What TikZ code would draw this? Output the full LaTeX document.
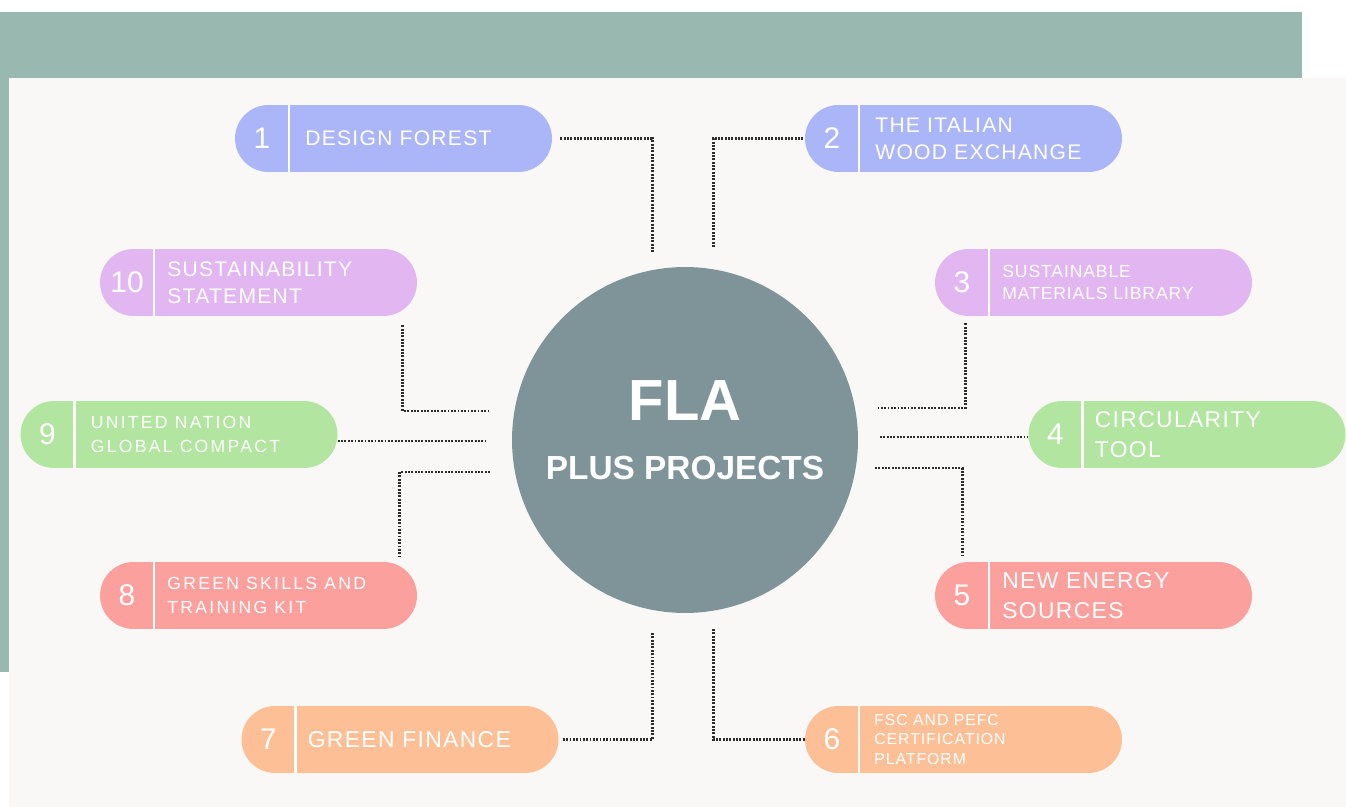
\documentclass[tikz,border=0pt]{standalone}
\usepackage{fontspec}
\setmainfont{Liberation Sans}
\usepackage{tikz}
\usetikzlibrary{shapes.misc}
\usetikzlibrary{positioning}

\definecolor{bandteal}{RGB}{152,184,176}
\definecolor{panelbg}{RGB}{249,248,246}
\definecolor{hubgray}{RGB}{126,148,152}
\definecolor{dotgray}{RGB}{45,45,45}
\definecolor{pillblue}{RGB}{170,182,248}
\definecolor{pilllilac}{RGB}{226,182,240}
\definecolor{pillgreen}{RGB}{178,229,160}
\definecolor{pillsalmon}{RGB}{252,160,157}
\definecolor{pillpeach}{RGB}{253,191,150}

\newcommand{\lblbig}{\fontsize{13}{17}\selectfont\addfontfeature{LetterSpace=6}}
\newcommand{\lblmid}{\fontsize{12}{15.3}\selectfont\addfontfeature{LetterSpace=6}}
\newcommand{\lblsmall}{\fontsize{10}{12.5}\selectfont\addfontfeature{LetterSpace=5}}
\newcommand{\lblwide}{\fontsize{10}{14}\selectfont\addfontfeature{LetterSpace=13}}
\newcommand{\lbltiny}{\fontsize{9}{11.3}\selectfont\addfontfeature{LetterSpace=6}}

\tikzset{
  pill/.style={rounded rectangle, minimum width=6.34cm, minimum height=1.34cm, inner sep=0pt},
  divider/.style={draw=white, line width=1.6pt},
  num/.style={text=white, font=\fontsize{17}{17}\selectfont, inner sep=0pt},
  lbl/.style={text=white, anchor=west, align=left, inner sep=0pt},
  dotline/.style={draw=dotgray, line width=1.7pt, dash pattern=on 1.1pt off 0.8pt},
}

\begin{document}
\begin{tikzpicture}[x=0.02cm, y=-0.02cm]
    \useasboundingbox (0, 0) rectangle (1346, 807);
    % background
    \fill[white] (0, 0) rectangle (1346, 807);
    \fill[bandteal] (0, 12) rectangle (1302, 672);
    \fill[panelbg] (9, 78) rectangle (1346, 807);

    % hub
    \node[circle, fill=hubgray, minimum size=6.92cm, inner sep=0pt] (hub) at (685, 440) {};
    \node[text=white, font=\fontsize{33}{33}\selectfont\bfseries] (ttl) at ([yshift=0.78cm]hub.center) {FLA};
    \node[text=white, font=\fontsize{19}{19}\selectfont\bfseries] (sub) at ([yshift=-0.56cm]hub.center) {PLUS PROJECTS};

    % pills
    \node[pill, fill=pillblue] (p1) at (393.5, 138.5) {};
    \node[pill, fill=pillblue] (p2) at (963.5, 138.5) {};
    \node[pill, fill=pilllilac] (p10) at (258.5, 282.5) {};
    \node[pill, fill=pilllilac] (p3) at (1093.5, 282.5) {};
    \node[pill, fill=pillgreen] (p9) at (179, 434.5) {};
    \node[pill, fill=pillgreen] (p4) at (1187, 434.5) {};
    \node[pill, fill=pillsalmon] (p8) at (258.5, 595.5) {};
    \node[pill, fill=pillsalmon] (p5) at (1093.5, 595.5) {};
    \node[pill, fill=pillpeach] (p7) at (400, 739.5) {};
    \node[pill, fill=pillpeach] (p6) at (963.5, 739.5) {};

    \foreach \p in {p1, p2, p3, p4, p5, p6, p7, p8, p9, p10}
      \draw[divider] ([xshift=-2.09cm]\p.north) -- ([xshift=-2.09cm]\p.south);

    \node[num] (n1) at ([xshift=-2.63cm]p1.center) {1};
    \node[num] (n2) at ([xshift=-2.63cm]p2.center) {2};
    \node[num] (n3) at ([xshift=-2.63cm]p3.center) {3};
    \node[num] (n4) at ([xshift=-2.63cm]p4.center) {4};
    \node[num] (n5) at ([xshift=-2.63cm]p5.center) {5};
    \node[num] (n6) at ([xshift=-2.63cm]p6.center) {6};
    \node[num] (n7) at ([xshift=-2.63cm]p7.center) {7};
    \node[num] (n8) at ([xshift=-2.63cm]p8.center) {8};
    \node[num] (n9) at ([xshift=-2.63cm]p9.center) {9};
    \node[num] (n10) at ([xshift=-2.63cm]p10.center) {10};

    \node[lbl, font=\lblmid] (l1) at ([xshift=-1.77cm]p1.center) {DESIGN FOREST};
    \node[lbl, font=\lblmid] (l2) at ([xshift=-1.77cm]p2.center) {THE ITALIAN\\WOOD EXCHANGE};
    \node[lbl, font=\lblsmall] (l3) at ([xshift=-1.83cm]p3.center) {SUSTAINABLE\\MATERIALS LIBRARY};
    \node[lbl, font=\lblbig] (l4) at ([xshift=-1.85cm]p4.center) {CIRCULARITY\\TOOL};
    \node[lbl, font=\lblbig] (l5) at ([xshift=-1.83cm]p5.center) {NEW ENERGY\\SOURCES};
    \node[lbl, font=\lbltiny] (l6) at ([xshift=-1.79cm]p6.center) {FSC AND PEFC\\CERTIFICATION\\PLATFORM};
    \node[lbl, font=\lblbig] (l7) at ([xshift=-1.85cm]p7.center) {GREEN FINANCE};
    \node[lbl, font=\lblwide] (l8) at ([xshift=-1.83cm]p8.center) {GREEN SKILLS AND\\TRAINING KIT};
    \node[lbl, font=\lblwide] (l9) at ([xshift=-1.77cm]p9.center) {UNITED NATION\\GLOBAL COMPACT};
    \node[lbl, font=\lblmid] (l10) at ([xshift=-1.83cm]p10.center) {SUSTAINABILITY\\STATEMENT};

    % connector ends near the hub
    \coordinate (e1) at (652, 252);
    \coordinate (e2) at (713, 247);
    \coordinate (e10) at (490, 411);
    \coordinate (e3) at (877, 408);
    \coordinate (e9) at (485, 441);
    \coordinate (e4) at (880, 437);
    \coordinate (e8) at (490, 472);
    \coordinate (e5) at (875, 468);
    \coordinate (e7) at (652, 633);
    \coordinate (e6) at (713, 629);

    % dotted connectors
    \draw[dotline, shorten <=0.16cm] (p1.east) -| (e1);
    \draw[dotline, shorten >=0.02cm] (e2) |- (p2.west);
    \draw[dotline, shorten <=0.18cm] ([xshift=2.89cm]p10.south) |- (e10);
    \draw[dotline, shorten <=0.14cm] ([xshift=-2.57cm]p3.south) |- (e3);
    \draw[dotline] (e9 -| p9.east) -- (e9);
    \draw[dotline] (e4) -- (e4 -| p4.west);
    \draw[dotline, shorten >=0.1cm] (e8) -| ([xshift=2.83cm]p8.north);
    \draw[dotline, shorten >=0.14cm] (e5) -| ([xshift=-2.63cm]p5.north);
    \draw[dotline, shorten <=0.08cm] (p7.east) -| (e7);
    \draw[dotline] (e6) |- (p6.west);
\end{tikzpicture}
\end{document}
